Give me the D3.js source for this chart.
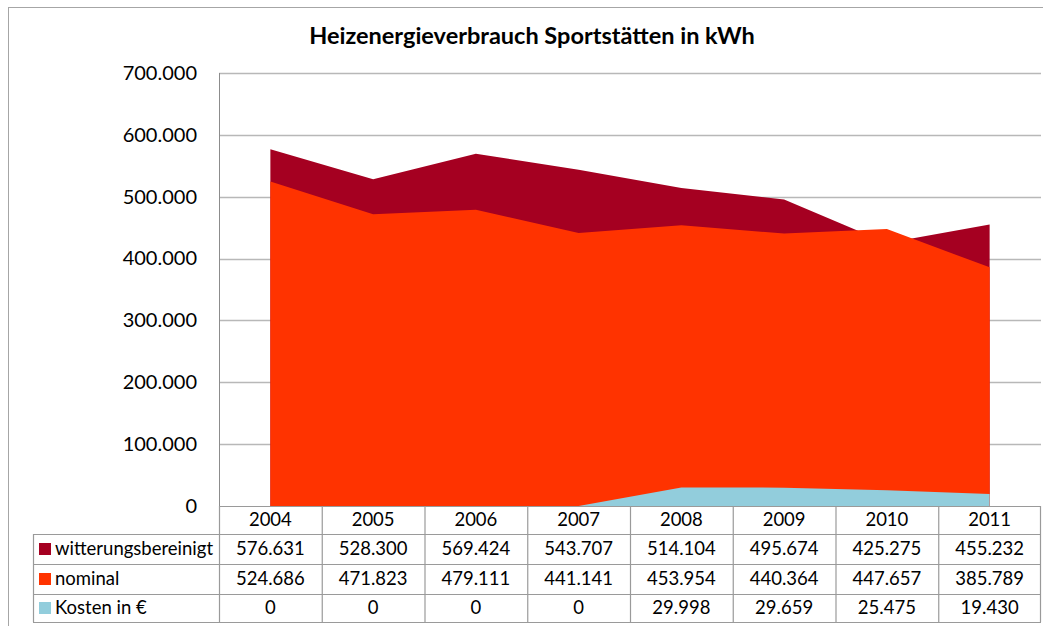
<!DOCTYPE html>
<html><head><meta charset="utf-8">
<script src="https://cdn.jsdelivr.net/npm/d3@7"></script>
<style>body{margin:0;background:#fff;} svg{display:block;font-family:Lato,"Open Sans",sans-serif;}</style>
</head><body><svg id="c" width="1043" height="626"></svg>
<script>
const years = ["2004","2005","2006","2007","2008","2009","2010","2011"];
const witterungsbereinigt = [576631, 528300, 569424, 543707, 514104, 495674, 425275, 455232];
const nominal = [524686, 471823, 479111, 441141, 453954, 440364, 447657, 385789];
const kosten = [0, 0, 0, 0, 29998, 29659, 25475, 19430];
const yTicks = [0, 100000, 200000, 300000, 400000, 500000, 600000, 700000];
const seriesNames = ["witterungsbereinigt", "nominal", "Kosten in €"];
const seriesColors = ["#A50021", "#FF3300", "#92CDDC"];
const title = "Heizenergieverbrauch Sportstätten in kWh";

const series = [witterungsbereinigt, nominal, kosten];
const de = d3.formatLocale({decimal: ",", thousands: ".", grouping: [3], currency: ["", " €"]});
const fmt = de.format(",d");

const svg = d3.select("#c");
const L = 219, R = 1041, T = 73, B = 506;
const x = d3.scaleBand().domain(years).range([L, R]).padding(0);
const y = d3.scaleLinear().domain([0, 700000]).range([B, T]);
const cx = d => x(d) + x.bandwidth() / 2;

// outer border
svg.append("rect").attr("x", 8.5).attr("y", 7.5).attr("width", 1040).attr("height", 630)
  .attr("fill", "none").attr("stroke", "#a6a6a6").attr("stroke-width", 1);

// title
svg.append("text").attr("x", 532).attr("y", 44).attr("text-anchor", "middle")
  .attr("font-weight", "bold").attr("font-size", 23.5).attr("fill", "#000").text(title);

// gridlines
svg.append("g").selectAll("line").data(yTicks.filter(t => t > 0)).join("line")
  .attr("x1", L).attr("x2", R).attr("y1", d => Math.round(y(d)) + 0.5).attr("y2", d => Math.round(y(d)) + 0.5)
  .attr("stroke", "#b8b8b8").attr("stroke-width", 1.5);

// y axis labels
const yAxis = d3.axisLeft(y).tickValues(yTicks).tickSize(0).tickPadding(22).tickFormat(fmt);
const ga = svg.append("g").attr("transform", `translate(${L},0)`).call(yAxis);
ga.select(".domain").remove();
ga.selectAll("text").attr("font-size", 20).attr("font-family", "Lato,sans-serif").attr("fill", "#000");

// areas (overlapping, not stacked)
series.forEach((vals, i) => {
  const area = d3.area().x((d, j) => cx(years[j])).y0(y(0)).y1(d => y(d));
  svg.append("path").datum(vals).attr("d", area).attr("fill", seriesColors[i]);
});

// axis line left
svg.append("line").attr("x1", L + 0.5).attr("x2", L + 0.5).attr("y1", T).attr("y2", B)
  .attr("stroke", "#8c8c8c").attr("stroke-width", 1);

// data table
const rowTop = [B, 534, 564, 594];
const rowBot = 622;
const tableLeft = 33;
const tg = svg.append("g");
const lineCol = "#9a9a9a";
tg.append("line").attr("x1", L).attr("x2", R).attr("y1", B + 0.5).attr("y2", B + 0.5).attr("stroke", lineCol).attr("stroke-width", 1.2);
[534, 564, 594, rowBot].forEach(yy => {
  tg.append("line").attr("x1", tableLeft).attr("x2", R).attr("y1", yy + 0.5).attr("y2", yy + 0.5).attr("stroke", lineCol).attr("stroke-width", 1.2);
});
years.forEach(yr => {
  tg.append("line").attr("x1", x(yr) + 0.5).attr("x2", x(yr) + 0.5).attr("y1", B).attr("y2", rowBot)
    .attr("stroke", lineCol).attr("stroke-width", 1.2);
});
tg.append("line").attr("x1", R - 0.5).attr("x2", R - 0.5).attr("y1", B).attr("y2", rowBot).attr("stroke", lineCol).attr("stroke-width", 1.2);
tg.append("line").attr("x1", tableLeft + 0.5).attr("x2", tableLeft + 0.5).attr("y1", 534).attr("y2", rowBot).attr("stroke", lineCol).attr("stroke-width", 1.2);

tg.selectAll("text.yr").data(years).join("text").attr("class", "yr")
  .attr("x", d => cx(d)).attr("y", 520).attr("dy", "0.35em").attr("text-anchor", "middle")
  .attr("font-size", 18.5).attr("fill", "#000").text(d => d);

series.forEach((vals, i) => {
  const yc = (rowTop[i + 1] + (i < 2 ? rowTop[i + 2] : rowBot)) / 2;
  tg.append("rect").attr("x", 39).attr("y", yc - 6).attr("width", 12).attr("height", 12).attr("fill", seriesColors[i]);
  tg.append("text").attr("x", 55).attr("y", yc).attr("dy", "0.35em").attr("font-size", 18.5).attr("fill", "#000").text(seriesNames[i]);
  tg.selectAll(null).data(vals).join("text")
    .attr("x", (d, j) => cx(years[j])).attr("y", yc).attr("dy", "0.35em").attr("text-anchor", "middle")
    .attr("font-size", 18.5).attr("fill", "#000").text(d => fmt(d));
});
</script></body></html>
